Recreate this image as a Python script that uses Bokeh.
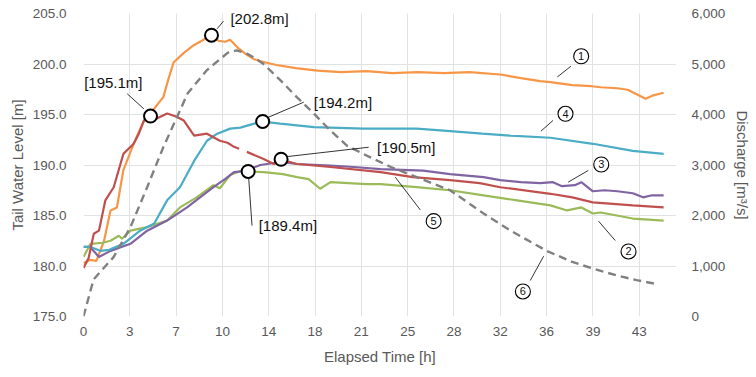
import numpy as np
from bokeh.plotting import figure
from bokeh.models import Range1d, LinearAxis, FixedTicker, NumeralTickFormatter, Label
from bokeh.core.properties import value
from bokeh.embed import file_html
from bokeh.resources import INLINE

FONT = "Liberation Sans"
nan = float("nan")

# ---------------- data ----------------
x_ticks = [0.0, 3.6, 7.2, 10.8, 14.4, 18.0, 21.6, 25.2, 28.8, 32.4, 36.0, 39.6, 43.2]
x_labels = ["0", "3", "7", "10", "14", "18", "21", "25", "28", "32", "36", "39", "43"]
level_ticks = [175, 180, 185, 190, 195, 200, 205]
discharge_ticks = [0, 1000, 2000, 3000, 4000, 5000, 6000]

# series 1 (orange)
time_1 = [0, 0.5, 1.0, 1.6, 2.1, 2.6, 3.1, 3.9, 4.7, 5.2, 6.0, 6.2, 6.6, 7.0, 7.8, 8.5, 9.2, 9.95,
          10.5, 11.0, 11.4, 12.0, 12.6, 13.2, 14.0, 15.0, 16.5, 18.2, 20.0, 22.0, 24.0, 26.0, 28.0,
          30.0, 32.4, 34.0, 35.5, 36.3, 38.0, 39.5, 40.2, 41.5, 42.3, 43.0, 43.7, 44.3, 45.1]
level_1 = [180.3, 180.6, 180.5, 182.5, 185.5, 185.8, 189.5, 192.1, 194.4, 195.1, 196.4, 196.7, 198.5,
           200.15, 201.1, 201.8, 202.3, 202.85, 202.3, 202.2, 202.4, 201.6, 201.0, 200.5, 200.2,
           199.9, 199.6, 199.35, 199.2, 199.3, 199.1, 199.2, 199.1, 199.2, 198.96, 198.6, 198.3,
           198.2, 197.9, 197.8, 197.7, 197.6, 197.45, 197.0, 196.55, 196.9, 197.15]

# series 2 (green)
time_2 = [0, 0.55, 1.5, 2.1, 2.75, 3.0, 3.65, 4.95, 6.5, 7.5, 8.8, 10.1, 10.6, 11.4, 12.2, 12.8,
          14.0, 15.5, 16.6, 17.5, 18.4, 19.2, 22.0, 23.1, 25.9, 28.5, 31.1, 33.7, 36.3, 37.6,
          38.7, 39.6, 40.2, 42.7, 45.1]
level_2 = [180.9, 182.2, 182.3, 182.5, 183.0, 182.7, 183.5, 183.85, 184.5, 185.8, 186.8, 188.0,
           187.7, 189.0, 189.4, 189.35, 189.3, 189.1, 188.8, 188.6, 187.65, 188.3, 188.1, 188.1,
           187.8, 187.5, 187.0, 186.5, 186.0, 185.5, 185.8, 185.2, 185.3, 184.7, 184.5]

# series 3 (purple)
time_3 = [0, 0.5, 1.2, 2.1, 3.65, 4.95, 6.5, 8.05, 10.1, 11.0, 11.7, 12.5, 13.75, 15.3, 16.6,
          19.2, 21.0, 23.1, 26.4, 28.5, 31.1, 32.4, 34.0, 35.5, 36.5, 37.2, 38.2, 38.7, 39.6,
          40.5, 41.5, 42.7, 43.5, 44.2, 45.1]
level_3 = [181.9, 181.9, 180.9, 181.5, 182.2, 183.5, 184.5, 185.8, 187.8, 188.6, 189.3, 189.4,
           190.0, 190.3, 190.1, 189.95, 189.8, 189.6, 189.45, 189.1, 188.8, 188.5, 188.3, 188.2,
           188.3, 187.9, 188.0, 188.3, 187.4, 187.5, 187.4, 187.2, 186.8, 187.0, 187.0]

# series 4 (cyan)
time_4 = [0, 0.5, 1.3, 2.0, 3.1, 4.4, 5.5, 6.5, 7.5, 8.6, 9.6, 10.4, 11.4, 12.2, 13.0, 13.9,
          15.3, 17.9, 21.8, 25.9, 28.0, 31.0, 33.2, 36.3, 39.6, 42.7, 45.1]
level_4 = [181.9, 181.9, 181.5, 181.6, 182.2, 183.5, 184.2, 186.5, 187.8, 190.4, 192.4, 193.1,
           193.6, 193.7, 194.0, 194.3, 194.1, 193.75, 193.6, 193.6, 193.4, 193.1, 192.9, 192.7,
           192.1, 191.4, 191.1]

# series 5 (red)
time_5 = [0, 0.4, 0.8, 1.2, 1.7, 2.35, 3.1, 3.9, 4.3, 4.7, 5.2, 5.7, 6.5, 7.2, 7.8, 8.6, 9.6,
          10.6, 11.2, 11.7, 12.1, nan, 12.7, 14.0, 14.8, 15.35, 16.6, 19.2, 23.1, 25.6, 28.5,
          30.8, 32.4, 36.3, 38.0, 39.6, 42.7, 45.1]
level_5 = [179.8, 180.8, 183.2, 183.5, 186.5, 187.8, 191.1, 192.1, 193.1, 194.4, 194.85, 194.6,
           195.1, 194.8, 194.4, 192.9, 193.1, 192.4, 192.2, 191.8, 191.6, nan, 191.3, 190.6,
           190.1, 190.55, 190.1, 189.8, 189.3, 188.8, 188.5, 188.2, 187.8, 187.15, 186.8, 186.3,
           186.0, 185.8]

# series 6 (discharge, dashed)
time_6 = [0, 0.55, 0.8, 2.35, 3.65, 4.95, 6.2, 7.5, 8.1, 9.6, 11.2, 11.9, 12.6, 13.3, 14.0,
          15.3, 16.6, 17.9, 19.2, 20.5, 22.3, 23.9, 25.9, 28.5, 31.1, 33.2, 36.0, 38.0, 39.7,
          41.5, 43.0, 44.6]
discharge_6 = [0, 520, 740, 1180, 1770, 2560, 3350, 4080, 4420, 4880, 5220, 5270, 5220, 5120,
               5000, 4680, 4340, 4020, 3680, 3380, 3150, 2960, 2760, 2500, 2040, 1700, 1300,
               1080, 940, 810, 720, 640]

# peak callouts
peak_time = [9.95, 5.21, 13.93, 15.36, 12.8]
peak_level = [202.85, 194.85, 194.31, 190.57, 189.36]
peak_text = ["[202.8m]", "[195.1m]", "[194.2m]", "[190.5m]", "[189.4m]"]
peak_text_x = [11.42, 0.05, 17.9, 22.82, 13.62]
peak_text_y = [204.5, 198.17, 196.16, 191.76, 184.0]
peak_lead_x0 = [10.39, 3.40, 14.27, 15.88, 12.84]
peak_lead_y0 = [203.49, 197.05, 194.67, 190.84, 188.76]
peak_lead_x1 = [10.88, 4.69, 17.12, 22.17, 13.1]
peak_lead_y1 = [204.24, 195.56, 196.22, 191.76, 184.0]

# series number callouts
num_text = ["1", "4", "3", "2", "6", "5"]
num_x = [38.69, 37.47, 40.25, 42.37, 34.16, 27.22]
num_y = [200.77, 195.07, 190.05, 181.44, 177.48, 184.44]
num_lead_x0 = [36.83, 35.56, 37.68, 40.04, 35.77, 24.24]
num_lead_y0 = [198.71, 193.35, 188.3, 184.44, 180.97, 188.79]
num_lead_x1 = [37.89, 36.5, 39.24, 41.34, 34.73, 26.18]
num_lead_y1 = [199.78, 194.41, 189.46, 182.52, 178.56, 185.56]

colors = {"1": "#F79646", "2": "#9BBB59", "3": "#8064A2", "4": "#4BACC6", "5": "#C0504D",
          "6": "#808080"}

# ---------------- figure ----------------
p = figure(width=756, height=377, output_backend="svg", toolbar_location=None,
           x_range=Range1d(0, 46.1), y_range=Range1d(175, 205),
           min_border_left=83, min_border_right=80, min_border_top=13, min_border_bottom=61)
p.outline_line_color = None
p.background_fill_color = "white"
p.border_fill_color = "white"
p.extra_y_ranges = {"q": Range1d(0, 6000)}

TICK_COLOR = "#595959"

p.xaxis.ticker = FixedTicker(ticks=x_ticks)
p.xaxis.major_label_overrides = {t: l for t, l in zip(x_ticks, x_labels)}
p.xaxis.axis_label = "Elapsed Time [h]"
p.yaxis.ticker = FixedTicker(ticks=level_ticks)
p.yaxis.formatter = NumeralTickFormatter(format="0.0")
p.yaxis.axis_label = "Tail Water Level [m]"

raxis = LinearAxis(y_range_name="q", ticker=FixedTicker(ticks=discharge_ticks),
                   formatter=NumeralTickFormatter(format="0,0"),
                   axis_label="Discharge [m³/s]")
p.add_layout(raxis, "right")

for ax in [p.xaxis[0], p.yaxis[0], raxis]:
    ax.axis_line_color = None
    ax.major_tick_line_color = None
    ax.minor_tick_line_color = None
    ax.major_tick_out = 0
    ax.major_tick_in = 0
    ax.minor_tick_out = 0
    ax.minor_tick_in = 0
    ax.major_label_text_font = FONT
    ax.major_label_text_font_size = "13.5px"
    ax.major_label_text_color = TICK_COLOR
    ax.axis_label_text_font = FONT
    ax.axis_label_text_font_size = "15px"
    ax.axis_label_text_font_style = "normal"
    ax.axis_label_text_color = TICK_COLOR

p.xaxis.major_label_standoff = 10
p.xaxis.axis_label_standoff = 9
p.yaxis[0].major_label_standoff = 17
p.yaxis[0].axis_label_standoff = 4
raxis.major_label_standoff = 15
raxis.axis_label_standoff = 6

p.xgrid.grid_line_color = "#e2e2e2"
p.ygrid.grid_line_color = "#e2e2e2"
p.xgrid.grid_line_width = 1
p.ygrid.grid_line_width = 1

# ---------------- lines ----------------
series = [("1", time_1, level_1), ("2", time_2, level_2), ("3", time_3, level_3),
          ("4", time_4, level_4), ("5", time_5, level_5)]
for key, t, h in series:
    p.line(np.array(t, dtype=float), np.array(h, dtype=float), line_color=colors[key],
           line_width=2.2)

p.line(time_6, discharge_6, y_range_name="q", line_color=colors["6"], line_width=2.4,
       line_dash="8 5")

# ---------------- callouts ----------------
p.segment(peak_lead_x0, peak_lead_y0, peak_lead_x1, peak_lead_y1, line_color="black",
          line_width=0.8)
p.segment(num_lead_x0, num_lead_y0, num_lead_x1, num_lead_y1, line_color="black",
          line_width=0.8)

p.scatter(peak_time, peak_level, marker="circle", size=13, fill_color="white",
          line_color="black", line_width=2)

for tx, ty, tt in zip(peak_text_x, peak_text_y, peak_text):
    p.add_layout(Label(x=tx, y=ty, text=tt, text_align="left", text_baseline="middle",
                       text_font=FONT, text_font_size="15px", text_color="#111111"))

p.scatter(num_x, num_y, marker="circle", size=15, fill_color="white", line_color="black",
          line_width=1.1)
p.text(x=num_x, y=num_y, text=num_text, text_align="center", text_baseline="middle",
       text_font=value(FONT), text_font_size="11px", text_color="#111111")

open("out.html", "w").write(file_html(p, INLINE))
